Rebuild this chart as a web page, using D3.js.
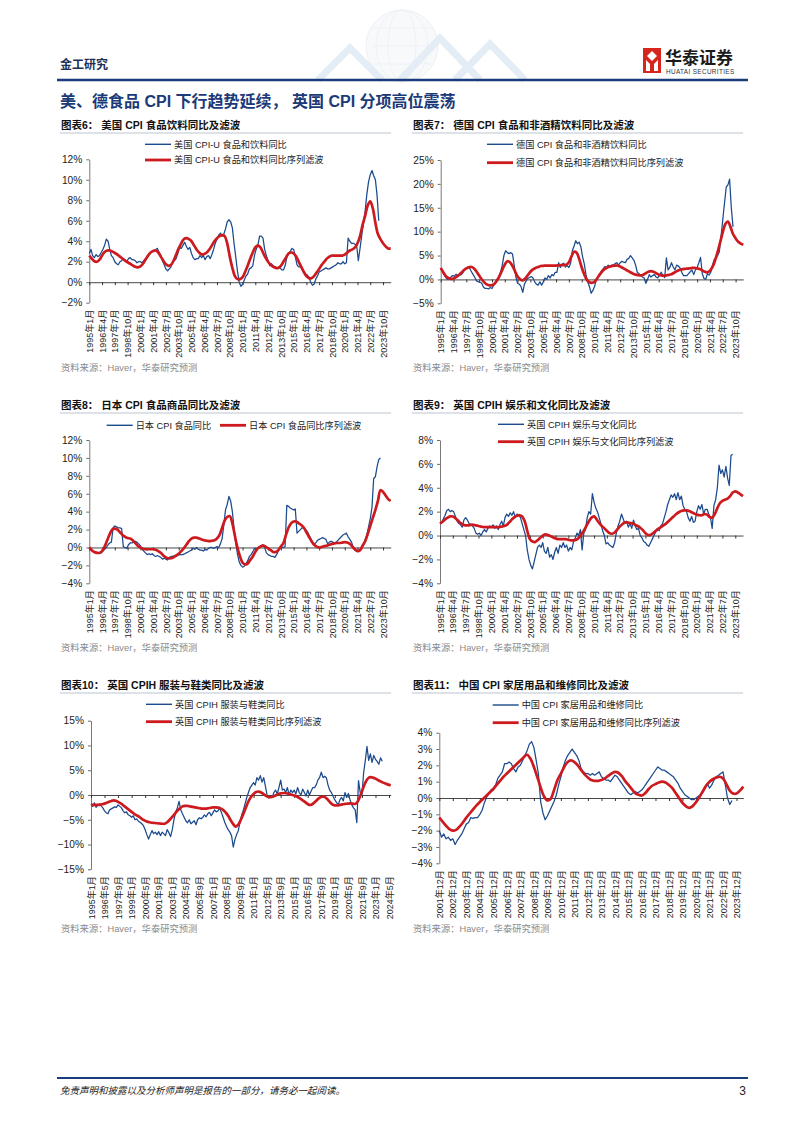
<!DOCTYPE html>
<html><head><meta charset="utf-8">
<script src="https://cdn.jsdelivr.net/npm/d3@7"></script>
<style>
html,body{margin:0;padding:0;background:#fff;}
svg{display:block;}
text{font-family:"Liberation Sans",Arial,"Noto Sans CJK SC",sans-serif;}
</style></head><body>
<svg id="page" width="802" height="1133"></svg>
<script>
// ---------------- tick labels ----------------
const ticksQ15 = ["1995年1月","1996年4月","1997年7月","1998年10月","2000年1月","2001年4月","2002年7月","2003年10月","2005年1月","2006年4月","2007年7月","2008年10月","2010年1月","2011年4月","2012年7月","2013年10月","2015年1月","2016年4月","2017年7月","2018年10月","2020年1月","2021年4月","2022年7月","2023年10月"];
const ticksM16 = ["1995年1月","1996年5月","1997年9月","1999年1月","2000年5月","2001年9月","2003年1月","2004年5月","2005年9月","2007年1月","2008年5月","2009年9月","2011年1月","2012年5月","2013年9月","2015年1月","2016年5月","2017年9月","2019年1月","2020年5月","2021年9月","2023年1月","2024年5月"];
const ticksY12 = ["2001年12月","2002年12月","2003年12月","2004年12月","2005年12月","2006年12月","2007年12月","2008年12月","2009年12月","2010年12月","2011年12月","2012年12月","2013年12月","2014年12月","2015年12月","2016年12月","2017年12月","2018年12月","2019年12月","2020年12月","2021年12月","2022年12月","2023年12月"];

// ---------------- series (blue: every 2 months, red: every 3 months) ----------------
// Chart 6: US CPI-U food & beverages, from 1995-01
const usFoodYoY = [
2.8,3.2,2.6,2.4,2.7,2.5, 2.6,2.9,3.2,3.6,4.2,4.0, 3.2,2.6,2.4,2.0,1.8,1.7, 2.0,2.1,2.3,2.2,2.0,2.3,
2.4,2.2,2.2,2.1,1.9,2.0, 2.0,1.9,2.1,2.3,2.4,2.7, 2.9,3.0,3.1,3.2,3.3,2.9, 2.6,2.1,1.7,1.3,1.1,1.3,
1.5,2.0,2.1,2.3,2.8,3.4, 3.3,3.6,3.9,3.5,3.2,3.4, 2.8,2.4,2.2,2.3,2.3,2.6, 2.4,2.6,2.2,2.5,2.6,2.3,
2.7,3.2,3.8,4.2,4.6,4.8, 4.5,4.7,5.2,5.9,6.1,5.9, 5.3,3.8,2.5,1.1,0.0,-0.4, -0.2,0.2,0.6,0.8,1.3,1.4,
1.6,2.6,3.2,3.6,4.5,4.5, 4.3,3.2,2.6,2.1,1.6,1.8, 1.6,1.5,1.4,1.4,1.4,1.2, 1.2,1.6,2.4,2.8,3.0,3.3,
3.2,2.5,1.7,1.5,1.5,1.3, 0.9,0.8,0.7,0.5,0.0,-0.3, -0.2,0.3,0.6,1.0,1.1,1.2, 1.3,1.4,1.3,1.3,1.4,1.5,
1.6,1.7,1.9,1.8,1.8,2.0, 1.8,1.9,4.3,4.0,3.8,3.8, 3.7,3.6,2.1,3.3,4.6,5.8, 7.0,8.6,9.8,10.5,10.9,10.4,
10.0,8.5,6.0];
const usFoodFilter = [
2.6,2.3,2.05,2.0, 2.2,2.6,2.95,3.1, 3.1,3.0,2.85,2.7, 2.5,2.3,2.1,1.95, 1.8,1.65,1.5,1.45,
1.55,1.8,2.2,2.6, 2.9,3.05,3.1,2.9, 2.5,2.1,1.75,1.6, 1.7,2.1,2.7,3.3, 3.8,4.2,4.3,4.2,
4.0,3.6,3.2,2.9, 2.7,2.75,2.9,3.2, 3.6,4.0,4.3,4.5, 4.6,4.5,3.8,2.5, 1.4,0.6,0.3,0.3,
0.5,1.0,1.6,2.3, 2.9,3.4,3.6,3.4, 2.9,2.4,2.0,1.7, 1.5,1.4,1.4,1.6, 2.0,2.4,2.8,2.9,
2.8,2.5,2.0,1.5, 1.0,0.6,0.4,0.4, 0.6,0.95,1.3,1.7, 2.0,2.3,2.5,2.6, 2.6,2.6,2.6,2.6,
2.7,2.9,3.1,3.2, 3.4,3.8,4.5,5.6, 6.5,7.5,7.9,7.2, 5.8,4.7,4.2,3.8, 3.5,3.3,3.3];

// Chart 7: Germany food & non-alcoholic beverages, from 1995-01
const deFoodYoY = [
2.4,1.8,1.0,0.4,0.0,0.2, 0.5,0.8,0.7,1.1,0.6,0.9, 1.0,1.4,2.0,2.4,2.6,2.3, 1.6,1.0,0.4,-0.3,-0.5,-0.6,
-0.8,-1.6,-1.9,-1.9,-2.0,-1.7, -1.9,-1.2,-0.6,0.0,0.6,1.5, 3.0,5.0,6.0,5.6,5.4,5.6, 5.3,3.0,0.5,-0.8,-1.0,-1.5,
-2.7,-1.0,-0.3,0.2,0.4,0.6, 0.3,-0.5,-1.0,-1.2,-0.5,-1.2, -0.5,0.3,0.0,0.8,0.3,1.0, 0.8,1.5,1.5,3.5,2.5,3.2,
3.4,2.6,2.9,2.5,3.4,6.0, 7.0,8.1,7.5,7.8,6.8,4.7, 3.2,1.0,-0.5,-1.5,-2.9,-2.3, -1.5,0.0,0.5,1.0,1.8,2.2,
2.7,2.5,3.0,2.6,3.0,3.0, 3.3,3.5,3.0,3.5,3.8,3.6, 3.5,4.2,4.4,5.0,4.5,4.0, 3.0,1.5,1.2,0.8,0.5,0.3,
-0.8,0.0,1.0,0.5,0.8,1.0, 0.5,0.3,1.0,1.5,0.8,0.4, 4.5,2.0,2.5,3.5,2.6,2.0, 3.0,2.8,2.4,1.5,0.8,0.8,
0.8,1.2,1.6,2.0,1.0,2.0, 2.5,3.5,4.6,1.2,0.2,0.0, 1.2,0.9,1.5,3.0,4.2,4.5, 5.0,5.8,9.0,12.5,16.0,19.3,
19.8,21.0,15.0,11.0];
const deFoodFilter = [
2.4,1.5,0.7,0.3, 0.1,0.2,0.5,0.9, 1.4,1.9,2.3,2.55, 2.6,2.3,1.6,0.8, 0.0,-0.6,-1.05,-1.25,
-1.2,-0.9,-0.2,0.8, 2.0,3.1,3.8,3.6, 2.8,1.7,0.6,0.0, -0.2,0.2,0.9,1.6, 2.1,2.4,2.6,2.8,
2.85,2.9,2.9,2.9, 2.9,2.9,2.95,3.0, 3.0,3.1,3.6,4.8, 5.8,5.6,4.3,2.5, 1.0,-0.1,-0.6,-0.7,
-0.5,0.2,1.0,1.7, 2.2,2.5,2.7,2.85, 2.9,2.9,2.7,2.4, 2.1,1.8,1.5,1.2, 1.0,0.9,0.85,1.0,
1.3,1.6,1.75,1.6, 1.3,1.0,0.85,0.8, 0.85,0.95,1.1,1.4, 1.7,1.95,2.1,2.2, 2.25,2.3,2.4,2.4,
2.3,2.2,1.9,1.6, 1.5,1.8,2.6,4.0, 5.8,7.8,9.9,11.6, 12.1,11.0,9.5,8.6, 7.9,7.5,7.25];

// Chart 8: Japan CPI food, from 1995-01
const jpFoodYoY = [
0.0,-0.3,-0.4,-0.5,-0.5,-0.6, -0.6,-0.6,-0.4,-0.2,0.0,0.3, 0.5,0.6,2.2,2.4,2.3,2.2, 2.2,2.1,0.1,0.0,-0.1,0.3,
0.5,0.5,0.6,0.7,0.6,0.4, 0.2,-0.2,-0.4,-0.6,-0.8,-0.7, -0.8,-0.7,-0.9,-1.0,-0.9,-1.0, -1.1,-1.3,-1.2,-1.3,-1.4,-1.1,
-1.0,-1.0,-0.9,-1.0,-0.9,-0.8, -0.8,-0.8,-0.7,-0.6,-0.5,-0.4, -0.3,-0.1,-0.2,0.0,-0.2,-0.3, -0.3,-0.4,-0.2,-0.3,-0.1,0.0,
0.0,-0.1,0.0,0.1,0.0,0.4, 1.0,2.5,4.2,4.8,5.7,5.2, 4.0,2.2,0.5,-0.7,-1.6,-2.0, -2.2,-2.1,-1.8,-1.5,-1.0,-0.8,
-0.5,-0.1,-0.3,0.0,0.1,0.2, 0.3,0.0,-0.6,-0.8,-0.9,-1.0, -1.0,-1.1,-0.8,-0.4,0.0,0.0, 0.0,0.1,4.7,4.6,4.4,4.3,
4.2,4.3,1.6,1.8,2.0,2.2, 2.2,2.0,1.8,1.4,1.0,0.6, 0.4,0.5,0.8,0.9,1.0,1.1, 1.0,0.9,0.4,0.6,0.7,0.6,
0.5,0.6,0.8,1.0,1.2,1.4, 1.5,1.6,1.2,0.9,0.6,0.0, -0.3,-0.4,-0.4,-0.3,-0.1,0.3, 0.9,1.4,2.3,3.2,4.5,7.7,
7.9,9.0,9.8,10.0];
const jpFoodFilter = [
0.0,-0.3,-0.5,-0.6, -0.6,-0.4,0.1,0.8, 1.5,2.0,2.1,2.0, 1.7,1.4,1.2,1.05, 1.0,0.8,0.5,0.2,
0.0,-0.15,-0.2,-0.2, -0.2,-0.2,-0.25,-0.4, -0.6,-0.9,-1.1,-1.2, -1.2,-1.1,-0.9,-0.7, -0.4,-0.1,0.3,0.7,
1.0,1.1,1.1,1.0, 0.9,0.8,0.75,0.7, 0.75,0.8,1.0,1.4, 2.2,3.0,3.4,3.5, 2.7,1.3,0.0,-1.0,
-1.7,-1.9,-1.8,-1.4, -1.0,-0.5,-0.1,0.1, 0.2,0.1,-0.1,-0.3, -0.5,-0.5,-0.3,0.1, 0.5,1.4,2.2,2.7,
2.9,2.9,2.7,2.5, 2.2,1.7,1.2,0.7, 0.3,0.1,0.0,0.05, 0.15,0.2,0.3,0.4, 0.45,0.5,0.5,0.55,
0.6,0.55,0.4,0.1, -0.2,-0.4,-0.3,0.2, 0.7,1.5,2.4,3.3, 4.2,5.2,6.4,6.2, 5.8,5.4,5.2];

// Chart 9: UK CPIH recreation & culture, from 1995-01
const ukRecYoY = [
1.0,1.1,1.4,1.7,2.1,2.2, 2.0,2.1,2.0,1.6,1.2,1.0, 0.9,0.7,1.3,1.5,1.3,1.0, 0.9,0.8,0.6,0.2,0.1,0.2,
0.0,0.3,0.5,0.3,0.6,0.8, 0.7,0.9,0.6,0.8,0.5,0.9, 1.2,0.8,1.5,1.8,1.6,1.9, 1.7,2.0,1.5,1.8,1.7,1.5,
1.0,0.5,0.0,-1.2,-2.0,-2.5, -2.8,-2.2,-1.6,-1.0,-0.8,-1.0, -0.6,-1.3,-1.5,-1.0,-1.8,-1.6, -2.0,-1.4,-1.0,-1.5,-0.8,-1.0,
-0.6,-1.0,-0.8,-1.3,-1.0,-1.2, -0.5,-0.2,0.2,0.0,0.5,-1.2, 0.2,0.5,1.5,2.0,1.8,3.5, 2.8,2.3,2.0,1.5,1.0,0.4,
0.0,-0.7,-0.6,-0.8,-0.9,-1.0, -0.6,0.2,0.8,1.2,1.8,1.4, 1.0,1.2,0.7,1.0,0.6,1.3, 0.8,0.5,0.6,0.0,-0.2,-0.5,
-0.6,-0.8,-0.9,-0.6,-0.3,0.0, 0.3,0.6,0.4,0.8,1.0,1.5, 2.0,2.6,3.0,3.4,3.2,3.5, 3.0,3.6,3.0,3.3,2.5,2.2,
2.0,1.5,1.2,1.6,1.1,1.2, 2.0,2.5,2.2,2.6,1.8,2.2, 2.2,1.8,1.5,0.6,2.5,3.0, 4.0,5.9,5.2,5.5,4.9,5.8,
4.8,4.2,6.7,6.8];
const ukRecFilter = [
1.0,1.15,1.35,1.5, 1.6,1.6,1.45,1.25, 1.05,0.9,0.85,0.85, 0.9,0.9,0.85,0.8, 0.75,0.7,0.7,0.7,
0.7,0.7,0.7,0.7, 0.75,0.8,0.9,1.1, 1.35,1.55,1.65,1.7, 1.6,1.2,0.4,-0.3, -0.5,-0.55,-0.4,-0.2,
0.0,0.1,0.05,-0.05, -0.15,-0.25,-0.3,-0.3, -0.3,-0.3,-0.35,-0.4, -0.4,-0.35,-0.2,0.1, 0.4,0.8,1.2,1.5,
1.6,1.35,1.05,0.8, 0.6,0.4,0.2,0.15, 0.25,0.5,0.75,0.95, 1.1,1.1,1.05,1.0, 0.9,0.8,0.65,0.45,
0.2,0.05,0.05,0.2, 0.4,0.55,0.7,0.85, 1.0,1.2,1.4,1.6, 1.8,1.95,2.05,2.1, 2.1,2.05,1.95,1.85,
1.75,1.7,1.7,1.8, 1.75,1.55,1.5,1.8, 2.3,2.7,2.9,3.0, 3.1,3.3,3.6,3.7, 3.6,3.45,3.3];

// Chart 10: UK CPIH clothing & footwear, from 1995-01
const ukClothYoY = [
-1.8,-2.3,-1.6,-2.5,-2.0,-1.8, -2.2,-2.6,-3.2,-3.6,-3.8,-3.0, -2.8,-2.6,-2.4,-2.5,-2.0,-2.3, -2.6,-3.2,-3.6,-3.4,-4.0,-4.2,
-4.5,-4.2,-5.0,-4.8,-5.3,-5.5, -5.8,-6.2,-7.0,-8.0,-8.9,-8.0, -7.2,-7.8,-7.5,-8.0,-7.4,-8.2, -7.5,-7.8,-8.2,-7.0,-7.6,-8.4,
-7.0,-5.0,-3.5,-2.6,-1.3,-3.0, -3.8,-4.5,-5.2,-5.6,-5.0,-5.8, -5.5,-5.2,-6.0,-5.0,-4.6,-4.8, -4.5,-4.0,-4.4,-3.8,-3.5,-4.2,
-3.6,-3.0,-3.4,-3.2,-2.7,-3.5, -4.5,-5.5,-6.3,-7.0,-7.5,-8.2, -10.5,-9.0,-8.0,-7.2,-5.5,-4.0, -3.0,-1.8,-0.5,0.5,1.5,2.0,
2.5,2.0,3.5,3.0,3.9,2.6, 3.5,1.8,0.0,-0.6,-0.3,-0.5, 0.5,1.0,0.2,1.5,3.0,1.0, 1.2,0.5,1.5,0.0,1.0,0.5,
1.0,0.2,1.5,0.5,0.0,1.2, 0.5,-0.2,1.0,0.0,0.8,1.5, 1.5,2.0,3.0,3.5,4.6,3.5, 3.8,3.5,2.0,1.0,0.5,-0.3,
-1.0,-1.5,-2.0,-1.0,-0.5,-1.2, 0.5,-0.5,0.3,-1.0,-2.0,-2.6, -3.0,-5.6,2.9,0.5,0.0,4.5, 7.0,9.8,7.0,8.3,6.6,8.0,
7.2,6.8,6.2,7.5,6.8];
const ukClothFilter = [
-2.0,-2.0,-2.0,-2.0, -1.9,-1.8,-1.6,-1.4, -1.2,-1.1,-1.2,-1.5, -1.8,-2.2,-2.6,-3.0, -3.4,-3.8,-4.1,-4.4,
-4.8,-5.1,-5.35,-5.5, -5.6,-5.65,-5.7,-5.75, -5.8,-5.8,-5.5,-5.0, -4.4,-3.8,-3.2,-2.7, -2.3,-2.2,-2.2,-2.3,
-2.4,-2.5,-2.6,-2.7, -2.75,-2.75,-2.7,-2.6, -2.5,-2.5,-2.55,-2.7, -3.0,-3.5,-4.2,-5.1, -5.9,-6.4,-6.0,-5.0,
-3.8,-2.5,-1.3,-0.4, 0.2,0.6,0.7,0.5, 0.2,-0.2,-0.45,-0.4, -0.25,0.0,0.25,0.35, 0.4,0.35,0.2,0.05,
-0.1,-0.3,-0.6,-0.95, -1.3,-1.7,-2.0,-1.9, -1.5,-1.0,-0.55,-0.35, -0.4,-0.8,-1.4,-1.9, -2.1,-2.1,-2.0,-1.9,
-1.8,-1.75,-1.7,-1.75, -1.8,-1.3,-0.2,1.2, 2.5,3.3,3.6,3.5, 3.3,3.0,2.75,2.5, 2.3,2.1,1.95];

// Chart 11: China CPI household goods & repair, from 2001-12
const cnHomeYoY = [
-2.0,-2.4,-2.2,-2.5,-2.4,-2.6, -2.5,-2.85,-2.6,-2.4,-2.2,-1.9, -1.6,-1.5,-1.2,-1.25,-1.2,-1.2,
-1.0,-0.75,-0.3,0.05,0.3,0.5, 0.6,0.8,1.2,1.4,1.6,2.1, 2.1,2.2,2.1,1.8,1.6,1.9,
2.0,2.3,2.6,2.9,3.3,3.45, 3.1,2.3,1.5,-0.2,-0.9,-1.33, -1.1,-0.8,-0.5,-0.2,0.2,0.8,
1.3,1.9,2.3,2.6,2.8,3.0, 2.8,2.6,2.3,1.8,1.6,1.5, 1.5,1.4,1.5,1.4,1.5,1.6,
1.3,1.2,1.1,1.1,1.0,1.2, 1.4,1.3,1.1,0.9,0.7,0.5, 0.3,0.2,0.3,0.4,0.3,0.4,
0.5,0.7,0.9,1.1,1.3,1.5, 1.7,1.9,1.8,1.7,1.7,1.6, 1.5,1.4,1.3,1.1,0.9,0.6,
0.4,0.2,0.1,0.0,-0.1,-0.1, 0.0,0.1,0.2,0.4,0.7,0.9, 0.6,0.8,1.1,1.3,1.4,1.5,
1.6,0.8,0.0,-0.4,-0.15];
const cnHomeFilter = [
-1.2,-1.45,-1.7,-1.9, -2.0,-1.95,-1.75,-1.5, -1.2,-0.95,-0.7,-0.45, -0.25,-0.05,0.15,0.35,
0.55,0.8,1.05,1.3, 1.5,1.7,1.9,2.1, 2.3,2.5,2.65,2.4, 1.9,1.3,0.65,0.1,
-0.15,-0.05,0.5,1.1, 1.5,1.9,2.2,2.3, 2.2,2.0,1.7,1.45, 1.25,1.1,1.05,1.05,
1.1,1.2,1.35,1.5, 1.6,1.55,1.35,1.05, 0.8,0.55,0.3,0.2, 0.15,0.3,0.55,0.75,
0.85,0.95,1.0,0.95, 0.8,0.6,0.3,0.0, -0.3,-0.5,-0.6,-0.5, -0.25,0.05,0.4,0.75,
1.0,1.15,1.25,1.3, 1.2,0.85,0.45,0.27, 0.28,0.45,0.7];

// ---------------- drawing ----------------
const BLUE = "#1b4a8d", RED = "#cc1a1f";
const parseYM = d3.timeParse("%Y-%m");
function series(start, step, values){
  const s = parseYM(start);
  return values.map((v,i)=>({d: d3.timeMonth.offset(s, i*step), v}));
}
function parseLabel(l){ const m = l.match(/(\d{4})年(\d{1,2})月/); return new Date(+m[1], +m[2]-1, 1); }

const svg = d3.select("#page");
svg.append("rect").attr("x",0).attr("y",0).attr("width",802).attr("height",1133).attr("fill","#fff");

// header watermark
const wm = svg.append("g").attr("opacity",0.4);
wm.append("circle").attr("cx",402).attr("cy",46).attr("r",36).attr("fill","#eef2f7").attr("stroke","#d3dbe6");
[14,26].forEach(r=>wm.append("ellipse").attr("cx",402).attr("cy",46).attr("rx",r).attr("ry",36).attr("fill","none").attr("stroke","#d6dde8"));
[-18,0,18].forEach(dy=>wm.append("line").attr("x1",372).attr("x2",432).attr("y1",46+dy).attr("y2",46+dy).attr("stroke","#d6dde8"));
[[318,80,350,48,382,80],[400,80,440,38,480,80],[455,80,490,44,525,80]].forEach(p=>{
  wm.append("polyline").attr("points",`${p[0]},${p[1]} ${p[2]},${p[3]} ${p[4]},${p[5]}`).attr("fill","none").attr("stroke","#bcd0e8").attr("stroke-width",7);
});

// header
svg.append("text").attr("x",60).attr("y",69).attr("font-size",12).attr("font-weight","bold").attr("fill","#1d2f55").text("金工研究");
svg.append("line").attr("x1",57).attr("x2",748).attr("y1",80).attr("y2",80).attr("stroke","#1b3c7c").attr("stroke-width",2.5);
// logo
const lg = svg.append("g");
lg.append("rect").attr("x",643).attr("y",48).attr("width",18).attr("height",25).attr("fill","#d6261e");
lg.append("polygon").attr("points","652,51 657,56 652,61 647,56").attr("fill","#fff");
lg.append("polygon").attr("points","646,60 650,64 650,71 646,71").attr("fill","#fff");
lg.append("polygon").attr("points","658,60 654,64 654,71 658,71").attr("fill","#fff");
lg.append("text").attr("x",665).attr("y",64).attr("font-size",17).attr("font-weight","bold").attr("fill","#1a1a1a").text("华泰证券");
lg.append("text").attr("x",666).attr("y",73.5).attr("font-size",6.4).attr("fill","#333").attr("letter-spacing",0.35).text("HUATAI SECURITIES");

// main title
svg.append("text").attr("x",60).attr("y",107).attr("font-size",16).attr("font-weight","bold").attr("fill","#1b3a78")
  .text("美、德食品 CPI 下行趋势延续， 英国 CPI 分项高位震荡");

const charts = [
 {titleA:"图表6：", titleB:"美国 CPI 食品饮料同比及滤波", tx:61, ty:125, tx2:391,
  left:89.3, right:390.7, top:159.3, bottom:302.7, yDomain:[-2,12], yStep:2, labels:ticksQ15,
  blue:series("1995-01",2,usFoodYoY), red:series("1995-01",3,usFoodFilter),
  legend:[{x:145,y:144.3,t:"美国 CPI-U 食品和饮料同比",c:"b"},{x:145,y:160,t:"美国 CPI-U 食品和饮料同比序列滤波",c:"r"}], src:368},
 {titleA:"图表7：", titleB:"德国 CPI 食品和非酒精饮料同比及滤波", tx:413, ty:125, tx2:743,
  left:440.7, right:743.3, top:160, bottom:303.3, yDomain:[-5,25], yStep:5, labels:ticksQ15,
  blue:series("1995-01",2,deFoodYoY), red:series("1995-01",3,deFoodFilter),
  legend:[{x:487,y:144.3,t:"德国 CPI 食品和非酒精饮料同比",c:"b"},{x:487,y:162.7,t:"德国 CPI 食品和非酒精饮料同比序列滤波",c:"r"}], src:368},
 {titleA:"图表8：", titleB:"日本 CPI 食品商品同比及滤波", tx:61, ty:405, tx2:391,
  left:89.3, right:390.7, top:440, bottom:583.3, yDomain:[-4,12], yStep:2, labels:ticksQ15,
  blue:series("1995-01",2,jpFoodYoY), red:series("1995-01",3,jpFoodFilter),
  legend:[{x:106.7,y:425.3,t:"日本 CPI 食品同比",c:"b"},{x:220,y:425.3,t:"日本 CPI 食品同比序列滤波",c:"r"}], src:648},
 {titleA:"图表9：", titleB:"英国 CPIH 娱乐和文化同比及滤波", tx:413, ty:405, tx2:743,
  left:440, right:743, top:440, bottom:583.3, yDomain:[-4,8], yStep:2, labels:ticksQ15,
  blue:series("1995-01",2,ukRecYoY), red:series("1995-01",3,ukRecFilter),
  legend:[{x:498,y:424.3,t:"英国 CPIH 娱乐与文化同比",c:"b"},{x:498,y:441.7,t:"英国 CPIH 娱乐与文化同比序列滤波",c:"r"}], src:648},
 {titleA:"图表10：", titleB:"英国 CPIH 服装与鞋类同比及滤波", tx:61, ty:685, tx2:391,
  left:91, right:390.7, top:720.7, bottom:869.3, yDomain:[-15,15], yStep:5, labels:ticksM16,
  blue:series("1995-01",2,ukClothYoY), red:series("1995-01",3,ukClothFilter),
  legend:[{x:146,y:704.3,t:"英国 CPIH 服装与鞋类同比",c:"b"},{x:146,y:721.7,t:"英国 CPIH 服装与鞋类同比序列滤波",c:"r"}], src:929},
 {titleA:"图表11：", titleB:"中国 CPI 家居用品和维修同比及滤波", tx:413, ty:685, tx2:743,
  left:439.3, right:743.3, top:732.7, bottom:863.3, yDomain:[-4,4], yStep:1, labels:ticksY12,
  blue:series("2001-12",2,cnHomeYoY), red:series("2001-12",3,cnHomeFilter),
  legend:[{x:492.7,y:705,t:"中国 CPI 家居用品和维修同比",c:"b"},{x:492.7,y:722.7,t:"中国 CPI 家居用品和维修同比序列滤波",c:"r"}], src:929}
];

function drawChart(c){
  const g = svg.append("g");
  const x = d3.scaleTime().domain([c.red[0].d, c.red[c.red.length-1].d]).range([c.left, c.right]);
  const y = d3.scaleLinear().domain(c.yDomain).range([c.bottom, c.top]);

  // title
  const t = g.append("text").attr("x",c.tx).attr("y",c.ty).attr("dy","0.35em").attr("font-size",10.5).attr("font-weight","bold").attr("fill","#111");
  t.append("tspan").text(c.titleA);
  t.append("tspan").attr("dx",3).text(c.titleB);
  g.append("line").attr("x1",c.tx-1).attr("x2",c.tx2).attr("y1",c.ty+8).attr("y2",c.ty+8).attr("stroke","#a9b5c6").attr("stroke-width",0.8);

  // y axis
  const yAxis = d3.axisLeft(y).tickValues(d3.range(c.yDomain[0], c.yDomain[1]+1e-9, c.yStep))
    .tickSize(3).tickSizeOuter(0).tickPadding(4).tickFormat(d=>d3.format("d")(d)+"%");
  const ya = g.append("g").attr("transform",`translate(${c.left},0)`).call(yAxis);
  ya.select(".domain").attr("stroke","#6b6b6b").attr("stroke-width",0.9);
  ya.selectAll(".tick line").attr("stroke","#6b6b6b");
  ya.selectAll("text").attr("font-size",10.2).attr("fill","#222").attr("font-family","Liberation Sans, Arial, sans-serif");

  // x axis on zero line
  const ticks = c.labels.map(parseLabel);
  const xAxis = d3.axisBottom(x).tickValues(ticks).tickSize(3).tickSizeOuter(0).tickFormat("");
  const xa = g.append("g").attr("transform",`translate(0,${y(0)})`).call(xAxis);
  xa.select(".domain").attr("stroke","#333").attr("stroke-width",0.9);
  xa.selectAll(".tick line").attr("stroke","#333");

  // x labels below plot
  g.selectAll(".xl").data(c.labels).join("text")
    .attr("transform", d=>`translate(${x(parseLabel(d))+0.5},${c.bottom+7}) rotate(-90)`)
    .attr("text-anchor","end").attr("dy","0.35em").attr("font-size",9).attr("fill","#222").text(d=>d);

  // lines
  const lineB = d3.line().x(d=>x(d.d)).y(d=>y(d.v));
  const lineR = d3.line().x(d=>x(d.d)).y(d=>y(d.v)).curve(d3.curveCatmullRom.alpha(0.5));
  g.append("path").datum(c.blue).attr("d",lineB).attr("fill","none").attr("stroke",BLUE).attr("stroke-width",1.25).attr("stroke-linejoin","round");
  g.append("path").datum(c.red).attr("d",lineR).attr("fill","none").attr("stroke",RED).attr("stroke-width",2.7).attr("stroke-linejoin","round");

  // legend
  c.legend.forEach(l=>{
    const isB = l.c==="b";
    g.append("line").attr("x1",l.x).attr("x2",l.x+26).attr("y1",l.y).attr("y2",l.y)
      .attr("stroke",isB?BLUE:RED).attr("stroke-width",isB?1.4:2.8);
    g.append("text").attr("x",l.x+29).attr("y",l.y).attr("dy","0.35em").attr("font-size",9.2).attr("fill","#222").text(l.t);
  });

  // source
  g.append("text").attr("x",c.tx).attr("y",c.src).attr("dy","0.35em").attr("font-size",9.3).attr("fill","#8a8a8a").text("资料来源：Haver，华泰研究预测");
}
charts.forEach(drawChart);

// footer
svg.append("line").attr("x1",57).attr("x2",748).attr("y1",1078).attr("y2",1078).attr("stroke","#1b3c7c").attr("stroke-width",2);
svg.append("text").attr("x",60).attr("y",1094).attr("font-size",9.5).attr("font-style","italic").attr("fill","#222")
  .text("免责声明和披露以及分析师声明是报告的一部分，请务必一起阅读。");
svg.append("text").attr("x",746).attr("y",1095).attr("text-anchor","end").attr("font-size",12).attr("fill","#222").text("3");
</script></body></html>
